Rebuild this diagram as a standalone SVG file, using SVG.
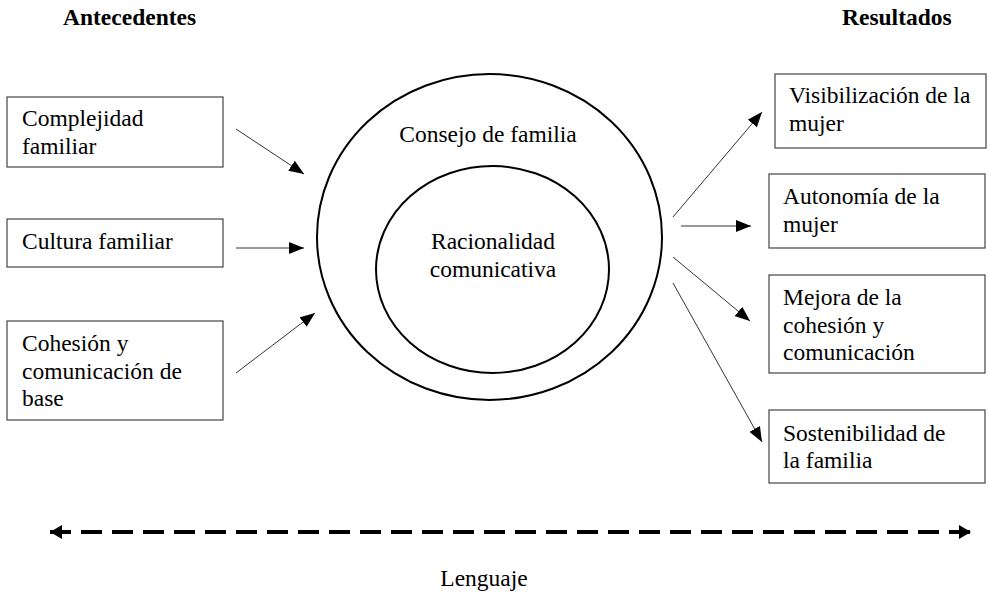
<svg xmlns="http://www.w3.org/2000/svg" width="988" height="592" viewBox="0 0 988 592">
<style>
.box{fill:#fff;stroke:#444;stroke-width:1.2}
.ell{fill:none;stroke:#000;stroke-width:2}
.con{stroke:#333;stroke-width:1;fill:none}
.dash{stroke:#000;stroke-width:4;stroke-dasharray:21 10;fill:none}
</style>
<defs>
<marker id="arr" markerUnits="userSpaceOnUse" markerWidth="16" markerHeight="12" refX="15" refY="6" orient="auto">
<path d="M0,0 L15,6 L0,12 z" fill="#000"/>
</marker>
<marker id="big" markerUnits="userSpaceOnUse" markerWidth="14" markerHeight="16" refX="12" refY="7" orient="auto-start-reverse">
<path d="M0,0 L12,7 L0,14 z" fill="#000"/>
</marker>
</defs>
<rect width="988" height="592" fill="#fff"/>
<g font-family="Liberation Serif, serif" font-size="23.5" fill="#000">
<text font-weight="bold" x="63" y="25">Antecedentes</text>
<text font-weight="bold" x="842" y="25">Resultados</text>

<g id="consejo">
<ellipse class="ell" cx="489.5" cy="237" rx="172.5" ry="163"/>
<text x="488" y="142" text-anchor="middle">Consejo de familia</text>
</g>
<g id="racionalidad">
<ellipse class="ell" cx="492.5" cy="269.5" rx="116.5" ry="103.5"/>
<text x="493" y="249" text-anchor="middle">Racionalidad</text>
<text x="493" y="277" text-anchor="middle">comunicativa</text>
</g>

<g id="complejidad">
<rect class="box" x="7" y="97" width="216" height="70"/>
<text x="22" y="126">Complejidad</text>
<text x="22" y="154">familiar</text>
</g>
<g id="cultura">
<rect class="box" x="7" y="219" width="216" height="48"/>
<text x="22" y="249">Cultura familiar</text>
</g>
<g id="cohesion">
<rect class="box" x="7" y="321" width="216" height="99"/>
<text x="22" y="351">Cohesión y</text>
<text x="22" y="379">comunicación de</text>
<text x="22" y="406">base</text>
</g>

<g id="visibilizacion">
<rect class="box" x="775" y="74" width="211" height="74"/>
<text x="789" y="103">Visibilización de la</text>
<text x="789" y="131">mujer</text>
</g>
<g id="autonomia">
<rect class="box" x="769" y="174" width="216" height="74"/>
<text x="783" y="204">Autonomía de la</text>
<text x="783" y="232">mujer</text>
</g>
<g id="mejora">
<rect class="box" x="769" y="275" width="216" height="98"/>
<text x="783" y="305">Mejora de la</text>
<text x="783" y="333">cohesión y</text>
<text x="783" y="360">comunicación</text>
</g>
<g id="sostenibilidad">
<rect class="box" x="769" y="410" width="216" height="73"/>
<text x="783" y="441">Sostenibilidad de</text>
<text x="783" y="468">la familia</text>
</g>

<g id="connectors">
<line class="con" x1="236" y1="129" x2="304" y2="174" marker-end="url(#arr)"/>
<line class="con" x1="236" y1="248" x2="304" y2="248" marker-end="url(#arr)"/>
<line class="con" x1="236" y1="373" x2="315" y2="313" marker-end="url(#arr)"/>
<line class="con" x1="673" y1="217" x2="762" y2="112" marker-end="url(#arr)"/>
<line class="con" x1="681" y1="226" x2="751" y2="226" marker-end="url(#arr)"/>
<line class="con" x1="673" y1="257" x2="750" y2="321" marker-end="url(#arr)"/>
<line class="con" x1="673" y1="283" x2="762" y2="442" marker-end="url(#arr)"/>
<line class="dash" x1="50" y1="532" x2="971" y2="532" marker-start="url(#big)" marker-end="url(#big)"/>
</g>
<text x="484" y="586" text-anchor="middle">Lenguaje</text>
</g>
</svg>
